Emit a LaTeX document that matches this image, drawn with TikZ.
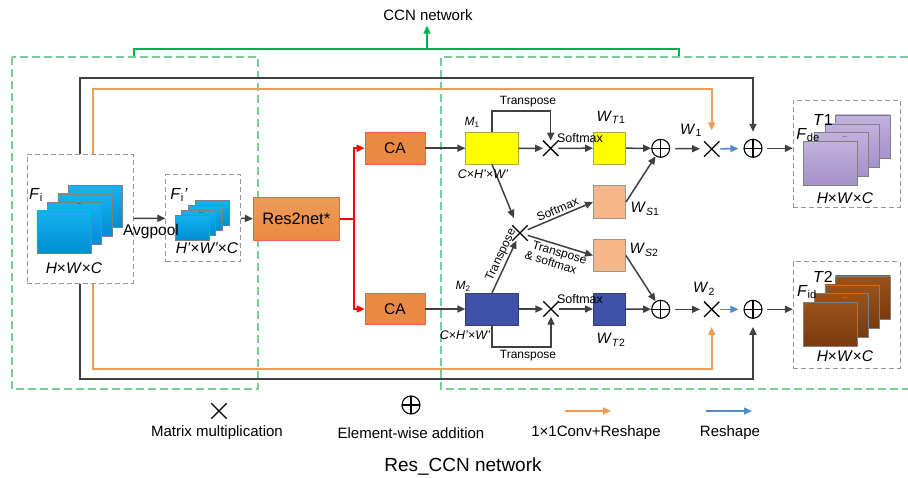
\documentclass[tikz,border=0pt]{standalone}
\usepackage{fontspec}
\setmainfont{Liberation Sans}
\usetikzlibrary{arrows.meta,shapes.misc,calc}
\definecolor{dk}{RGB}{64,64,64}
\definecolor{org}{RGB}{242,155,85}
\definecolor{blu}{RGB}{80,140,200}
\definecolor{grn}{RGB}{0,176,80}
\definecolor{lgrn}{RGB}{120,205,150}
\definecolor{gdash}{RGB}{150,150,150}
\definecolor{yel}{RGB}{255,255,0}
\definecolor{yeld}{RGB}{170,170,60}
\definecolor{ind}{RGB}{62,82,170}
\definecolor{indd}{RGB}{50,60,120}
\definecolor{peach}{RGB}{245,182,138}
\definecolor{caf}{RGB}{234,138,66}
\definecolor{cafl}{RGB}{238,155,90}
\definecolor{cab}{RGB}{245,95,75}
\definecolor{sbt}{RGB}{20,180,240}
\definecolor{sbb}{RGB}{0,140,210}
\definecolor{spt}{RGB}{192,178,222}
\definecolor{spb}{RGB}{165,145,200}
\definecolor{sbrt}{RGB}{155,82,25}
\definecolor{sbrb}{RGB}{122,58,14}
\newcommand{\fsz}[1]{\fontsize{#1}{#1}\selectfont}
\begin{document}
\begin{tikzpicture}[x=1pt,y=-1pt,
  >={Triangle[length=8pt,width=7pt]},
  lbl/.style={inner sep=0pt},
  gbox/.style={draw=gdash, line width=1pt, dash pattern=on 5pt off 3pt},
  gdashl/.style={draw=lgrn, line width=1.1pt, dash pattern=on 8pt off 4pt},
  conn/.style={draw=dk, line width=1.5pt, ->},
  blkl/.style={draw=dk, line width=1.8pt, ->},
  orgl/.style={draw=org, line width=1.8pt, ->},
  blul/.style={draw=blu, line width=1.6pt, ->},
  xmark/.style={cross out, draw=black, line width=1.3pt, minimum size=14pt, inner sep=0pt},
  oplus/.style={circle, draw=black, line width=1.1pt, minimum size=18pt, inner sep=0pt,
     path picture={\draw[line width=1.1pt] (path picture bounding box.north) -- (path picture bounding box.south)
       (path picture bounding box.west) -- (path picture bounding box.east);}},
  cabox/.style={draw=cab, line width=0.8pt, fill=caf, minimum width=60pt, minimum height=31.7pt, font=\fsz{15.5}},
  ybox/.style={draw=yeld, line width=0.6pt, fill=yel},
  ibox/.style={draw=indd, line width=0.6pt, fill=ind},
  pbox/.style={draw=gdash, line width=0.6pt, fill=peach, minimum width=32.4pt, minimum height=32.5pt},
  sheet/.style={draw=gray, line width=0.6pt},
  sblue/.style={sheet, top color=sbt, bottom color=sbb},
  spurp/.style={sheet, top color=spt, bottom color=spb},
  sbrown/.style={sheet, top color=sbrt, bottom color=sbrb},
]
\useasboundingbox (0,0) rectangle (908,477);

% CCN network bracket
\node[lbl, font=\fsz{15}, inner ysep=5pt] (ccn) at (428,15) {CCN network};
\draw[grn, line width=1.8pt] (134,57) -- (134,49) -- (679,49) -- (679,57);
\coordinate (brmid) at (427,49);
\draw[grn, line width=1.8pt, ->] (brmid) -- (brmid |- ccn.south);

% green dashed regions
\draw[gdashl] (12,57) rectangle (258,389);
\draw[gdashl] (908,57) -- (441,57) -- (441,389) -- (908,389);

% input feature box
\node[gbox, minimum width=106pt, minimum height=129pt] (fibox) at (80,218.5) {};
\foreach \i in {4,3,2,1}
  \node[sblue, minimum width=54pt, minimum height=42pt] (fa\i) at ({63.8+10.5*(\i-1)},{231.8-8.5*(\i-1)}) {};
\node[lbl, font=\fsz{6}] (fadots) at (80,204) {...};
\node[lbl, font=\fsz{16}] (filbl) at (36,195) {\textit{F}\textsubscript{i}};
\node[lbl, font=\fsz{15.5}] (fihwc) at (74,268) {\textit{H}×\textit{W}×\textit{C}};

% pooled feature box
\node[gbox, minimum width=74.7pt, minimum height=86.7pt] (f2box) at (203.3,218.3) {};
\foreach \i in {4,3,2,1}
  \node[sblue, minimum width=34pt, minimum height=25pt] (fb\i) at ({192+6.7*(\i-1)},{227.5-5*(\i-1)}) {};
\node[lbl, font=\fsz{6}] (fbdots) at (201,213) {...};
\node[lbl, font=\fsz{16}] (f2lbl) at (179,195) {\textit{F}\textsubscript{i}\textit{'}};
\node[lbl, font=\fsz{15.5}] (f2hwc) at (207,248) {\textit{H'}×\textit{W'}×\textit{C}};

\draw[conn] (fibox.east) -- (f2box.west);
\node[lbl, font=\fsz{15.5}] (avg) at (151,231) {Avgpool};

% Res2net
\node[draw=cab, line width=0.8pt, top color=cafl, bottom color=caf, minimum width=86pt, minimum height=42.7pt, font=\fsz{16.5}] (res) at (296.3,218.7) {Res2net*};
\draw[conn] (f2box.east) -- (res.west);

% CA boxes
\node[cabox] (ca1) at (395,148.2) {CA};
\node[cabox] (ca2) at (395,309) {CA};
\coordinate (rb) at (354,218.7);
\draw[red, line width=1.6pt] (res.east) -- (rb);
\draw[red, line width=1.6pt, ->] (rb) |- (ca1.west);
\draw[red, line width=1.6pt, ->] (rb) |- (ca2.west);

% top branch
\node[ybox, minimum width=52.6pt, minimum height=31.7pt] (m1) at (492,148.2) {};
\node[xmark] (x1) at (550.7,148.3) {};
\node[ybox, minimum width=32.4pt, minimum height=31.7pt] (wt1) at (609.5,148.2) {};
\node[oplus] (add1) at (660.7,148.3) {};
\node[xmark] (xw1) at (711.7,149) {};
\node[oplus] (add2) at (753,148.3) {};

% bottom branch
\node[ibox, minimum width=52.6pt, minimum height=31.7pt] (m2) at (492,309) {};
\node[xmark] (x2) at (551,309) {};
\node[ibox, minimum width=32.4pt, minimum height=31.7pt] (wt2) at (609.5,309) {};
\node[oplus] (add3) at (660.7,309.3) {};
\node[xmark] (xw2) at (711.7,309.3) {};
\node[oplus] (add4) at (753,309.3) {};

% spatial weights
\node[xmark] (xc) at (520,233) {};
\node[pbox] (ws1) at (609.5,202) {};
\node[pbox] (ws2) at (609.5,255.5) {};

% connectors top
\draw[conn] (ca1) -- (m1);
\draw[conn] (m1) -- (x1);
\draw[conn] (x1) -- (wt1);
\draw[conn] (wt1) -- (add1);
\draw[conn, shorten <=5pt, shorten >=4pt] (add1) -- (xw1);
\draw[blul, shorten <=1pt, shorten >=5pt] (xw1) -- (add2);
\draw[conn] (m1.north) -- ++(0,-21.3) -| (x1.north);
\node[lbl, font=\fsz{12}] (tp1) at (528,102) {Transpose};
\node[lbl, font=\fsz{12.5}] (sm1) at (580,138) {Softmax};

% connectors bottom
\draw[conn] (ca2) -- (m2);
\draw[conn] (m2) -- (x2);
\draw[conn] (x2) -- (wt2);
\draw[conn] (wt2) -- (add3);
\draw[conn, shorten <=5pt, shorten >=4pt] (add3) -- (xw2);
\draw[blul, shorten <=1pt, shorten >=5pt] (xw2) -- (add4);
\draw[conn] (m2.south) -- ++(0,21.7) -| (x2.south);
\node[lbl, font=\fsz{12}] (tp2) at (528,356) {Transpose};
\node[lbl, font=\fsz{12.5}] (sm2) at (580,299) {Softmax};

% cross connectors
\draw[conn, shorten >=8pt] (m1.south) -- (xc);
\draw[conn] (m2.north) -- node[pos=0.66, sloped, above=0.5pt, font=\fsz{12}, inner sep=1pt] {Transpose} (xc);
\draw[conn] (xc) -- node[pos=0.5, sloped, above=1pt, font=\fsz{12}, inner sep=1pt] {Softmax} (ws1.west);
\draw[conn] (xc) -- node[pos=0.52, sloped, below=1pt, font=\fsz{12}, inner sep=1pt, align=left] {\fontsize{12}{12.5}\selectfont Transpose\\\hspace*{-4pt}\& softmax} (ws2.west);
\draw[conn] (ws1.east) -- (add1);
\draw[conn] (ws2.east) -- (add3);

% labels
\node[lbl, font=\fsz{12}] (m1l) at (472,122) {\textit{M}\textsubscript{1}};
\node[lbl, font=\fsz{12}] (m2l) at (463,286) {\textit{M}\textsubscript{2}};
\node[lbl, font=\fsz{12.5}] (m1d) at (483,174) {\textit{C}×\textit{H'}×\textit{W'}};
\node[lbl, font=\fsz{12.5}] (m2d) at (465,335) {\textit{C}×\textit{H'}×\textit{W'}};
\node[lbl, font=\fsz{15}] (wt1l) at (611,117) {\textit{W}\textsubscript{\textit{T}1}};
\node[lbl, font=\fsz{15}] (wt2l) at (611,340) {\textit{W}\textsubscript{\textit{T}2}};
\node[lbl, font=\fsz{15}] (ws1l) at (645,209) {\textit{W}\textsubscript{\textit{S}1}};
\node[lbl, font=\fsz{15}] (ws2l) at (644,250) {\textit{W}\textsubscript{\textit{S}2}};
\node[lbl, font=\fsz{15}] (w1l) at (691,130) {\textit{W}\textsubscript{1}};
\node[lbl, font=\fsz{15}] (w2l) at (704,289) {\textit{W}\textsubscript{2}};

% output boxes
\node[gbox, minimum width=106.7pt, minimum height=107.3pt] (o1box) at (846.7,153.7) {};
\foreach \i in {4,3,2,1}
  \node[spurp, minimum width=54.4pt, minimum height=43.3pt] (pa\i) at ({830.5+10.8*(\i-1)},{163.3-8.9*(\i-1)}) {};
\node[lbl, font=\fsz{6}] (padots) at (845,137) {...};
\node[lbl, font=\fsz{16}] (o1f) at (808,135) {\textit{F}\textsubscript{de}};
\node[lbl, font=\fsz{16}] (o1t) at (823,120) {\textit{T}1};
\node[lbl, font=\fsz{15.5}] (o1hwc) at (845,198) {\textit{H}×\textit{W}×\textit{C}};

\node[gbox, minimum width=106.7pt, minimum height=106.7pt] (o2box) at (846.7,315) {};
\foreach \i in {4,3,2,1}
  \node[sbrown, minimum width=54.4pt, minimum height=43.3pt] (pb\i) at ({830.5+10.8*(\i-1)},{324.3-8.9*(\i-1)}) {};
\node[lbl, font=\fsz{6}, text=white!80!black] (pbdots) at (845,298) {...};
\node[lbl, font=\fsz{16}] (o2f) at (807,292) {\textit{F}\textsubscript{id}};
\node[lbl, font=\fsz{16}] (o2t) at (823,277) {\textit{T}2};
\node[lbl, font=\fsz{15.5}] (o2hwc) at (845,356) {\textit{H}×\textit{W}×\textit{C}};

\draw[conn, shorten <=4pt] (add2) -- (add2 -| o1box.west);
\draw[conn, shorten <=4pt] (add4) -- (add4 -| o2box.west);

% long skip connections
\coordinate (ytop) at (0,78);
\coordinate (yorg) at (0,89);
\coordinate (ybot) at (0,379);
\coordinate (yorgb) at (0,369);
\coordinate (ot) at ([xshift=13.3pt]fibox.north);
\coordinate (ob) at ([xshift=13.3pt]fibox.south);
\draw[blkl, shorten >=7pt] (fibox.north) -- (fibox.north |- ytop) -| (add2.north);
\draw[orgl, shorten >=11pt] (ot) -- (ot |- yorg) -| (xw1.north);
\draw[blkl, shorten >=8pt] (fibox.south) -- (fibox.south |- ybot) -| (add4.south);
\draw[orgl, shorten >=10pt] (ob) -- (ob |- yorgb) -| (xw2.south);

% legend
\node[xmark] (lgx) at (219,411) {};
\node[lbl, font=\fsz{15}] (lgxt) at (217,433) {Matrix multiplication};
\node[oplus] (lgo) at (411,405) {};
\node[lbl, font=\fsz{15}] (lgot) at (411,433) {Element-wise addition};
\coordinate (lgoa) at (565,411);
\coordinate (lgob) at (611,411);
\draw[orgl] (lgoa) -- (lgob);
\node[lbl, font=\fsz{15}] (lgorg) at (596,433) {1×1Conv+Reshape};
\coordinate (lgba) at (706,411);
\coordinate (lgbb) at (752,411);
\draw[blul] (lgba) -- (lgbb);
\node[lbl, font=\fsz{15}] (lgblu) at (730,433) {Reshape};
\node[lbl, font=\fsz{19}] (title) at (463,466) {Res\_CCN network};
\end{tikzpicture}
\end{document}
